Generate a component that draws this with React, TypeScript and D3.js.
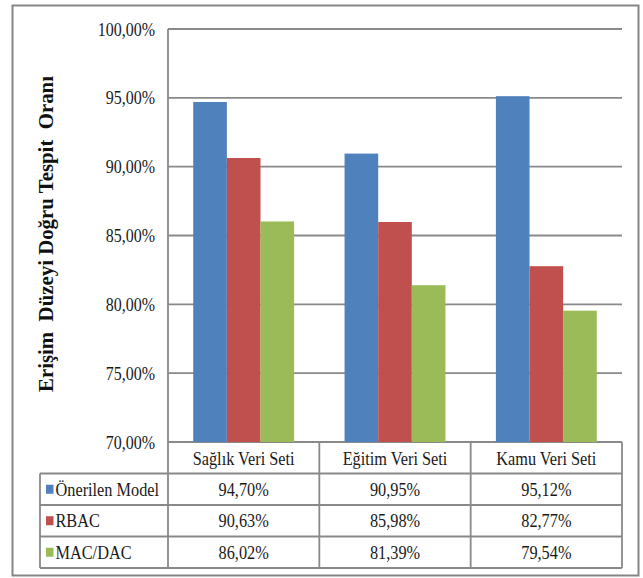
import React from 'react';
import * as d3 from 'd3';

const categories = ['Sağlık Veri Seti', 'Eğitim Veri Seti', 'Kamu Veri Seti'];
const seriesNames = ['Önerilen Model', 'RBAC', 'MAC/DAC'];
const seriesColors = ['#4F81BD', '#C0504D', '#9BBB59'];
const onerilen = [94.7, 90.95, 95.12];
const rbac = [90.63, 85.98, 82.77];
const macdac = [86.02, 81.39, 79.54];
const yTicks = [70, 75, 80, 85, 90, 95, 100];
const yTitle = 'Erişim  Düzeyi Doğru Tespit  Oranı';

const fmt = (v: number) => v.toFixed(2).replace('.', ',') + '%';

// text stretched a little vertically, like the scanned original
function Label(props: { x: number; y: number; anchor?: string; size?: number; children: React.ReactNode }) {
  const { x, y, anchor = 'start', size = 16, children } = props;
  return (
    <g transform={`translate(${x},${y}) scale(1,1.18)`}>
      <text x={0} y={0} dy="0.35em" textAnchor={anchor} fontSize={size} fill="#1a1a1a">
        {children}
      </text>
    </g>
  );
}

export default function App() {
  const width = 643;
  const height = 578;
  const left = 168;
  const right = 622;
  const top = 29;
  const bottom = 442;
  const rowH = 31.5;
  const legendLeft = 40;
  const font = "'Liberation Serif', 'Times New Roman', serif";
  const gridColor = '#898989';

  const values = [onerilen, rbac, macdac];

  const x0 = d3.scaleBand<string>().domain(categories).range([left, right]);
  const x1 = d3
    .scaleBand<string>()
    .domain(seriesNames)
    .range([0, x0.bandwidth()])
    .paddingInner(0)
    .paddingOuter(0.75);
  const y = d3.scaleLinear().domain([70, 100]).range([bottom, top]);

  const tableTop = bottom + rowH;
  const tableBottom = tableTop + rowH * 3;

  return (
    <svg
      width={width}
      height={height}
      style={{ position: 'absolute', left: 0, top: 0, background: '#fff', fontFamily: font }}
    >
      {/* outer frame */}
      <rect x={12.5} y={5.5} width={626} height={570} fill="#fff" stroke="#858585" strokeWidth={2} />

      {/* gridlines */}
      {yTicks.map((t) => (
        <line key={t} x1={left} x2={right} y1={y(t)} y2={y(t)} stroke={gridColor} strokeWidth={1.8} />
      ))}
      {yTicks.map((t) => (
        <Label key={'l' + t} x={155} y={y(t)} anchor="end" size={16}>
          {fmt(t)}
        </Label>
      ))}

      {/* y axis title */}
      <text
        transform={`translate(53,234) rotate(-90)`}
        textAnchor="middle"
        fontSize={20}
        fontWeight="bold"
        fill="#111"
        textLength={316}
        lengthAdjust="spacingAndGlyphs"
        style={{ whiteSpace: 'pre' }}
      >
        {yTitle}
      </text>

      {/* bars */}
      {categories.map((c, ci) =>
        seriesNames.map((s, si) => (
          <rect
            key={c + s}
            x={(x0(c) as number) + (x1(s) as number)}
            y={y(values[si][ci])}
            width={x1.bandwidth()}
            height={bottom - y(values[si][ci])}
            fill={seriesColors[si]}
          />
        ))
      )}

      {/* table lines */}
      <line x1={left} x2={left} y1={top} y2={tableBottom} stroke={gridColor} strokeWidth={1.8} />
      {categories.map((c) => (
        <line
          key={'v' + c}
          x1={(x0(c) as number) + x0.bandwidth()}
          x2={(x0(c) as number) + x0.bandwidth()}
          y1={bottom}
          y2={tableBottom}
          stroke={gridColor}
          strokeWidth={1.8}
        />
      ))}
      <line x1={legendLeft} x2={legendLeft} y1={tableTop} y2={tableBottom} stroke={gridColor} strokeWidth={1.8} />
      {[0, 1, 2, 3].map((r) => (
        <line
          key={'h' + r}
          x1={legendLeft}
          x2={right}
          y1={tableTop + r * rowH}
          y2={tableTop + r * rowH}
          stroke={gridColor}
          strokeWidth={1.8}
        />
      ))}

      {/* header */}
      {categories.map((c) => (
        <Label key={'c' + c} x={(x0(c) as number) + x0.bandwidth() / 2} y={bottom + rowH / 2 + 1} anchor="middle" size={16.3}>
          {c}
        </Label>
      ))}

      {/* rows */}
      {seriesNames.map((s, si) => {
        const cy = tableTop + si * rowH + rowH / 2;
        return (
          <g key={'r' + s}>
            <rect x={46} y={cy - 4.5} width={7.5} height={9} fill={seriesColors[si]} />
            <Label x={55.5} y={cy} size={16.3}>
              {s}
            </Label>
            {categories.map((c, ci) => (
              <Label key={c} x={(x0(c) as number) + x0.bandwidth() / 2} y={cy} anchor="middle" size={16.3}>
                {fmt(values[si][ci])}
              </Label>
            ))}
          </g>
        );
      })}
    </svg>
  );
}
